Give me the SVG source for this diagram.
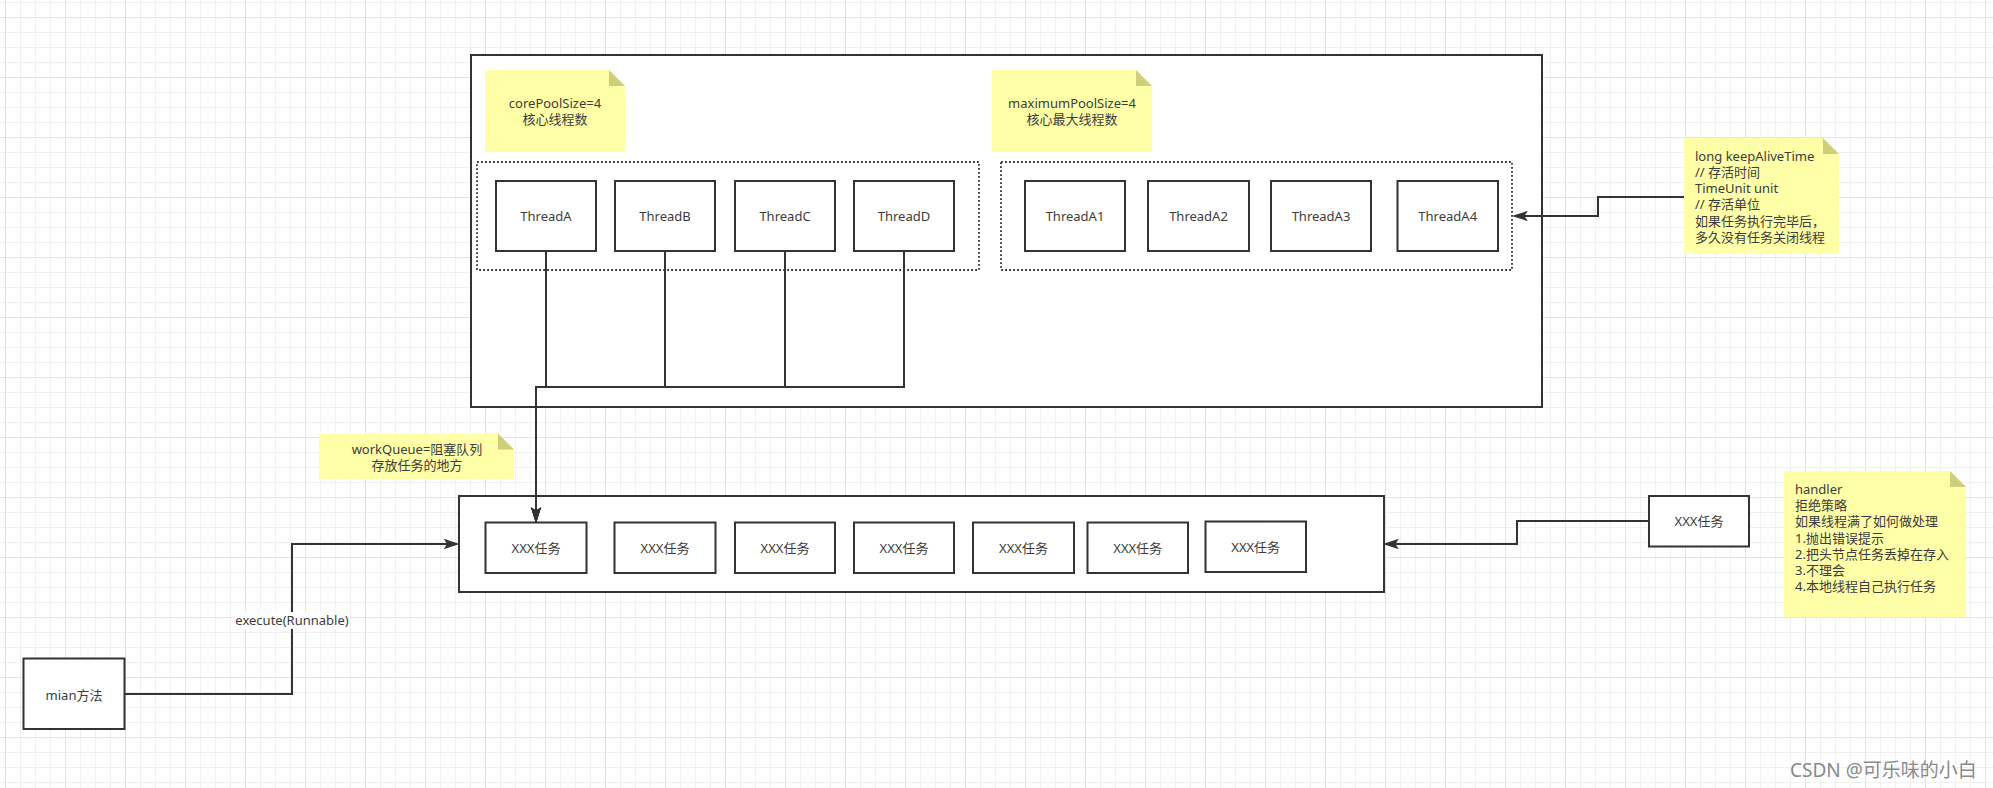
<svg xmlns="http://www.w3.org/2000/svg" width="1993" height="788" viewBox="0 0 1993 788">
<style>
.t{font-family:"Noto Sans","Noto Sans CJK SC",sans-serif;font-size:13px;fill:#3c3c3c}
.c{text-anchor:middle}
.box{fill:#fff;stroke:#333;stroke-width:2}
.dot{fill:none;stroke:#333;stroke-width:1.8;stroke-dasharray:1.8 2.2}
.note{fill:#ffffa8}
.fold{fill:#cfcf7b}
.edge{fill:none;stroke:#333;stroke-width:2}
.wm{font-family:"Noto Sans","Noto Sans CJK SC",sans-serif;font-size:19px;fill:#8a8a8a}
</style>
<defs>
<pattern id="grid" patternUnits="userSpaceOnUse" x="5" y="17" width="60" height="60">
<rect width="60" height="60" fill="#fff"/>
<rect x="15" width="1" height="60" fill="#f1f1f1"/>
<rect x="30" width="1" height="60" fill="#f1f1f1"/>
<rect x="45" width="1" height="60" fill="#f1f1f1"/>
<rect y="15" width="60" height="1" fill="#f1f1f1"/>
<rect y="30" width="60" height="1" fill="#f1f1f1"/>
<rect y="45" width="60" height="1" fill="#f1f1f1"/>
<rect x="0" width="1" height="60" fill="#e4e4e4"/>
<rect y="0" width="60" height="1" fill="#e4e4e4"/>
</pattern>
<marker id="arr" markerUnits="userSpaceOnUse" markerWidth="16" markerHeight="12" viewBox="0 0 14 9" refX="6" refY="4.5" orient="auto" overflow="visible">
<path d="M0,0 L14,4.5 L0,9 L3,4.5 Z" fill="#333"/>
</marker>
</defs>
<rect width="1993" height="788" fill="url(#grid)"/>

<g id="threadPool">
<rect class="box" x="471" y="55" width="1071" height="352"/>
</g>

<g id="noteCore">
<path class="note" d="M485,70 H609 L625,86 V152 H485 Z"/>
<path class="fold" d="M609,70 L625,86 H609 Z"/>
<text class="t c" x="555" y="107.5">corePoolSize=4</text>
<text class="t c" x="555" y="124">核心线程数</text>
</g>

<g id="noteMax">
<path class="note" d="M992,70 H1136 L1152,86 V152 H992 Z"/>
<path class="fold" d="M1136,70 L1152,86 H1136 Z"/>
<text class="t c" x="1072" y="107.5">maximumPoolSize=4</text>
<text class="t c" x="1072" y="124">核心最大线程数</text>
</g>

<g id="coreGroup">
<rect class="dot" x="477" y="162" width="502" height="108"/>
</g>
<g id="maxGroup">
<rect class="dot" x="1001" y="162" width="511" height="108"/>
</g>

<g id="threadA"><rect class="box" x="496" y="181" width="100" height="70"/><text class="t c" x="546" y="220.5">ThreadA</text></g>
<g id="threadB"><rect class="box" x="615" y="181" width="100" height="70"/><text class="t c" x="665" y="220.5">ThreadB</text></g>
<g id="threadC"><rect class="box" x="735" y="181" width="100" height="70"/><text class="t c" x="785" y="220.5">ThreadC</text></g>
<g id="threadD"><rect class="box" x="854" y="181" width="100" height="70"/><text class="t c" x="904" y="220.5">ThreadD</text></g>
<g id="threadA1"><rect class="box" x="1025" y="181" width="100" height="70"/><text class="t c" x="1075" y="220.5">ThreadA1</text></g>
<g id="threadA2"><rect class="box" x="1148" y="181" width="101" height="70"/><text class="t c" x="1198.5" y="220.5">ThreadA2</text></g>
<g id="threadA3"><rect class="box" x="1271" y="181" width="100" height="70"/><text class="t c" x="1321" y="220.5">ThreadA3</text></g>
<g id="threadA4"><rect class="box" x="1397.5" y="181" width="100.5" height="70"/><text class="t c" x="1447.7" y="220.5">ThreadA4</text></g>

<g id="noteKeepAlive">
<path class="note" d="M1684,138 H1823 L1839,154 V254 H1684 Z"/>
<path class="fold" d="M1823,138 L1839,154 H1823 Z"/>
<text class="t" x="1695" y="161">long keepAliveTime</text>
<text class="t" x="1695" y="177">// 存活时间</text>
<text class="t" x="1695" y="193">TimeUnit unit</text>
<text class="t" x="1695" y="209">// 存活单位</text>
<text class="t" x="1695" y="225.5">如果任务执行完毕后，</text>
<text class="t" x="1695" y="241.5">多久没有任务关闭线程</text>
</g>

<g id="noteWorkQueue">
<path class="note" d="M319,433.5 H498 L514,449.5 V479 H319 Z"/>
<path class="fold" d="M498,433.5 L514,449.5 H498 Z"/>
<text class="t c" x="417" y="454">workQueue=阻塞队列</text>
<text class="t c" x="417" y="469.5">存放任务的地方</text>
</g>

<g id="workQueue">
<rect class="box" x="459" y="496" width="925" height="96"/>
</g>
<g id="task1"><rect class="box" x="485.5" y="522.5" width="101" height="50.5"/><text class="t c" x="536" y="552.5">XXX任务</text></g>
<g id="task2"><rect class="box" x="614.5" y="522.5" width="101" height="50.5"/><text class="t c" x="665" y="552.5">XXX任务</text></g>
<g id="task3"><rect class="box" x="735" y="522.5" width="100" height="50.5"/><text class="t c" x="785" y="552.5">XXX任务</text></g>
<g id="task4"><rect class="box" x="854" y="522.5" width="100" height="50.5"/><text class="t c" x="904" y="552.5">XXX任务</text></g>
<g id="task5"><rect class="box" x="973" y="522.5" width="101" height="50.5"/><text class="t c" x="1023.5" y="552.5">XXX任务</text></g>
<g id="task6"><rect class="box" x="1087.5" y="522.5" width="100.5" height="50.5"/><text class="t c" x="1137.7" y="552.5">XXX任务</text></g>
<g id="task7"><rect class="box" x="1205.5" y="521.5" width="100.5" height="50.5"/><text class="t c" x="1255.7" y="551.5">XXX任务</text></g>

<g id="taskIncoming"><rect class="box" x="1649" y="496" width="100" height="50.5"/><text class="t c" x="1699" y="525.5">XXX任务</text></g>

<g id="noteHandler">
<path class="note" d="M1784,471 H1950 L1966,487 V617 H1784 Z"/>
<path class="fold" d="M1950,471 L1966,487 H1950 Z"/>
<text class="t" x="1795" y="494">handler</text>
<text class="t" x="1795" y="510">拒绝策略</text>
<text class="t" x="1795" y="526">如果线程满了如何做处理</text>
<text class="t" x="1795" y="542.5">1.抛出错误提示</text>
<text class="t" x="1795" y="558.5">2.把头节点任务丢掉在存入</text>
<text class="t" x="1795" y="575">3.不理会</text>
<text class="t" x="1795" y="591">4.本地线程自己执行任务</text>
</g>

<g id="mian"><rect class="box" x="23.5" y="658.5" width="101" height="70.5"/><text class="t c" x="74" y="699.5">mian方法</text></g>

<g id="connectors">
<path class="edge" d="M546,251 V387 H536 V514" marker-end="url(#arr)"/>
<path class="edge" d="M665,251 V387 H536 V514" marker-end="url(#arr)"/>
<path class="edge" d="M785,251 V387 H536 V514" marker-end="url(#arr)"/>
<path class="edge" d="M904,251 V387 H536 V514" marker-end="url(#arr)"/>
<path class="edge" d="M1684,197 H1598 V216 H1521" marker-end="url(#arr)"/>
<path class="edge" d="M1649,521 H1517 V544 H1392" marker-end="url(#arr)"/>
<path class="edge" d="M124.5,694 H292 V544 H450.5" marker-end="url(#arr)"/>
<rect x="234" y="612" width="116" height="17" fill="#fff"/>
<text class="t c" x="292" y="625">execute(Runnable)</text>
</g>

<text class="wm" x="1790" y="777">CSDN @可乐味的小白</text>
</svg>
